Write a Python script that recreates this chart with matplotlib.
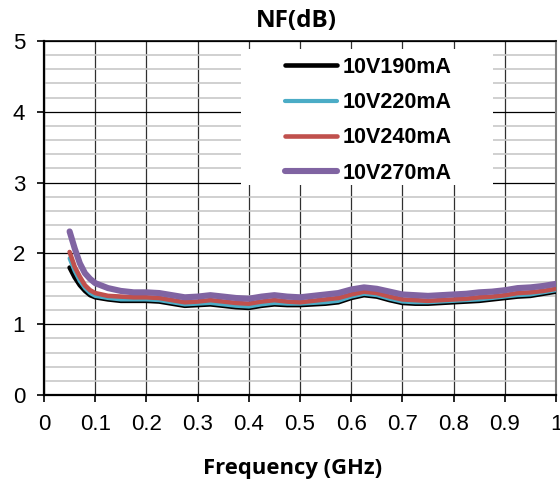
import matplotlib.pyplot as plt
from matplotlib.patches import Rectangle
import numpy as np

plt.rcParams['font.family'] = ['Liberation Sans', 'DejaVu Sans']

# frequency points (GHz)
freq = [0.05, 0.06, 0.07, 0.08, 0.09, 0.10,
        0.125, 0.15, 0.175, 0.2, 0.225, 0.25, 0.275, 0.3, 0.325, 0.35,
        0.375, 0.4, 0.425, 0.45, 0.475, 0.5, 0.525, 0.55, 0.575, 0.6,
        0.625, 0.65, 0.675, 0.7, 0.725, 0.75, 0.775, 0.8, 0.825, 0.85,
        0.875, 0.9, 0.925, 0.95, 0.975, 1.0]

# noise figure (dB) per bias condition
nf_190 = [1.80, 1.66, 1.55, 1.47, 1.41, 1.38,
          1.35, 1.33, 1.33, 1.33, 1.32, 1.29, 1.26, 1.27, 1.28, 1.26,
          1.24, 1.23, 1.26, 1.28, 1.27, 1.27, 1.28, 1.29, 1.31, 1.37,
          1.41, 1.39, 1.34, 1.30, 1.29, 1.29, 1.30, 1.31, 1.32, 1.33,
          1.35, 1.37, 1.39, 1.40, 1.43, 1.46]
nf_220 = [1.93, 1.75, 1.61, 1.51, 1.44, 1.40,
          1.37, 1.35, 1.35, 1.35, 1.34, 1.31, 1.28, 1.29, 1.30, 1.28,
          1.26, 1.25, 1.28, 1.30, 1.29, 1.29, 1.30, 1.31, 1.33, 1.39,
          1.43, 1.41, 1.36, 1.32, 1.31, 1.31, 1.32, 1.33, 1.34, 1.35,
          1.37, 1.39, 1.41, 1.42, 1.45, 1.48]
nf_240 = [2.02, 1.81, 1.67, 1.55, 1.48, 1.44,
          1.40, 1.39, 1.38, 1.38, 1.37, 1.34, 1.31, 1.32, 1.34, 1.32,
          1.30, 1.29, 1.32, 1.34, 1.32, 1.31, 1.33, 1.35, 1.37, 1.42,
          1.46, 1.44, 1.39, 1.35, 1.34, 1.33, 1.34, 1.35, 1.36, 1.38,
          1.39, 1.41, 1.44, 1.45, 1.47, 1.50]
nf_270 = [2.31, 2.07, 1.86, 1.72, 1.64, 1.58,
          1.51, 1.47, 1.45, 1.45, 1.44, 1.41, 1.38, 1.39, 1.41, 1.39,
          1.37, 1.36, 1.39, 1.41, 1.39, 1.38, 1.40, 1.42, 1.44, 1.49,
          1.52, 1.50, 1.46, 1.42, 1.41, 1.40, 1.41, 1.42, 1.43, 1.45,
          1.46, 1.48, 1.51, 1.52, 1.54, 1.57]

labels = ['10V190mA', '10V220mA', '10V240mA', '10V270mA']
colors = ['#000000', '#4BACC6', '#C0504D', '#8064A2']
widths = [3.3, 3.0, 3.3, 4.4]

fig = plt.figure(figsize=(5.6, 4.91), dpi=100)
ax = fig.add_axes([44/560, 1 - 395/491, 512/560, 354/491])

for y, lab, c, w in zip([nf_190, nf_220, nf_240, nf_270], labels, colors, widths):
    ax.plot(freq, y, color=c, lw=w, label=lab, solid_capstyle='round', zorder=4)

ax.set_xlim(0, 1)
ax.set_ylim(0, 5)
ax.set_xticks(np.arange(0, 1.01, 0.1))
ax.set_xticklabels(['0', '0.1', '0.2', '0.3', '0.4', '0.5', '0.6', '0.7', '0.8', '0.9', '1'])
ax.set_yticks(range(6))
ax.set_yticks(np.arange(0, 5.01, 0.2), minor=True)

ax.grid(axis='y', which='minor', color='#c8c8c8', lw=1.2)
ax.grid(axis='y', which='major', color='black', lw=0.9)
ax.grid(axis='x', which='major', color='#303030', lw=0.9)

ax.tick_params(axis='both', which='major', direction='out', length=5, width=1.2,
               labelsize=16, pad=8.5)
ax.tick_params(axis='y', which='minor', length=0)

for s in ['left', 'bottom']:
    ax.spines[s].set_linewidth(1.6)
    ax.spines[s].set_color('black')
ax.spines['top'].set_linewidth(1.2)
ax.spines['right'].set_color('#808080')
ax.spines['right'].set_linewidth(1.5)

# white legend background
ax.add_patch(Rectangle((241/560, 1 - 185/491), 252/560, 136/491, transform=fig.transFigure,
                       facecolor='white', edgecolor='none', zorder=3))

leg = ax.legend(loc='upper left', bbox_to_anchor=(285/560, 1 - 57/491),
                bbox_transform=fig.transFigure, frameon=False, borderpad=0,
                borderaxespad=0, handlelength=2.42, handletextpad=0.28,
                labelspacing=0.66, prop={'family': 'Liberation Sans', 'weight': 'bold', 'size': 15.5})
leg.set_zorder(5)

ax.set_title('NF(dB)', fontfamily='Open Sans', fontweight='bold', fontsize=17.5, pad=10)
ax.title.set_position((0.493, 1.0))
ax.set_xlabel('Frequency (GHz)', fontfamily='Open Sans', fontweight='bold', fontsize=15.8)
ax.xaxis.set_label_coords(0.485, -0.178)

fig.savefig('out.png', dpi=100)
